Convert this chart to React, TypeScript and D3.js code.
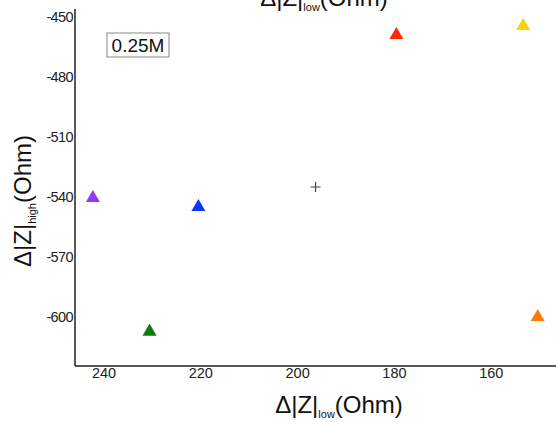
import React from "react";
import * as d3 from "d3";

const W = 556;
const H = 424;

const xTicks = [240, 220, 200, 180, 160];
const yTicks = [-450, -480, -510, -540, -570, -600];

const names = ["purple", "blue", "green", "red", "yellow", "orange"];
const xValues = [242.3, 220.5, 230.6, 179.6, 153.4, 150.4];
const yValues = [-540.5, -545, -607.3, -459, -454.5, -600];
const colors = ["#8c3cff", "#0a36ff", "#0b7d0b", "#ff2a00", "#ffd200", "#ff7d00"];

const centerX = [196.3];
const centerY = [-535];

const boxLabel = "0.25M";

export default function App() {
  const x = d3.scaleLinear().domain([246, 146]).range([75, 559]);
  const y = d3.scaleLinear().domain([-624.5, -446]).range([366, 9]);
  const tri = d3.symbol().type(d3.symbolTriangle).size(85)() as string;
  const font = "'Liberation Sans', Arial, sans-serif";

  return (
    <svg
      width={W}
      height={H}
      style={{ position: "absolute", left: 0, top: 0, background: "#fff" }}
      fontFamily={font}
    >
      {/* top (cropped) title */}
      <text x={324} y={6} textAnchor="middle" fontSize={24} fill="#111">
        Δ|Z|<tspan fontSize={11} dy={5}>low</tspan>
        <tspan dy={-5}>(Ohm)</tspan>
      </text>

      {/* axes */}
      <line x1={x(246)} x2={x(246)} y1={y(-446)} y2={y(-624.5)} stroke="#222" strokeWidth={1.5} />
      <line x1={x(246)} x2={W} y1={y(-624.5)} y2={y(-624.5)} stroke="#222" strokeWidth={1.5} />

      {yTicks.map((t) => (
        <text key={t} x={73} y={y(t) + 5} textAnchor="end" fontSize={14.5} fill="#222" letterSpacing={-0.6}>
          {t}
        </text>
      ))}
      {xTicks.map((t) => (
        <text key={t} x={x(t)} y={378} textAnchor="middle" fontSize={14.5} fill="#222">
          {t}
        </text>
      ))}

      {/* x title */}
      <text x={339} y={413} textAnchor="middle" fontSize={24} fill="#111">
        Δ|Z|<tspan fontSize={11} dy={5}>low</tspan>
        <tspan dy={-5}>(Ohm)</tspan>
      </text>
      {/* y title */}
      <text
        transform={`translate(31,201) rotate(-90)`}
        textAnchor="middle"
        fontSize={24}
        fill="#111"
      >
        Δ|Z|<tspan fontSize={11} dy={5}>high</tspan>
        <tspan dy={-5}>(Ohm)</tspan>
      </text>

      {/* label box */}
      <rect x={107} y={33} width={62} height={24} fill="#fff" stroke="#888" strokeWidth={1} />
      <text x={138} y={52} textAnchor="middle" fontSize={19} fill="#111">
        {boxLabel}
      </text>

      {/* center marker */}
      {centerX.map((cx, i) => (
        <path
          key={"c" + i}
          d={`M${x(cx) - 5},${y(centerY[i])}h10M${x(cx)},${y(centerY[i]) - 5}v10`}
          stroke="#444"
          strokeWidth={1.2}
        />
      ))}

      {/* points */}
      {names.map((n, i) => (
        <path
          key={n}
          d={tri}
          transform={`translate(${x(xValues[i])},${y(yValues[i])})`}
          fill={colors[i]}
        />
      ))}
    </svg>
  );
}
